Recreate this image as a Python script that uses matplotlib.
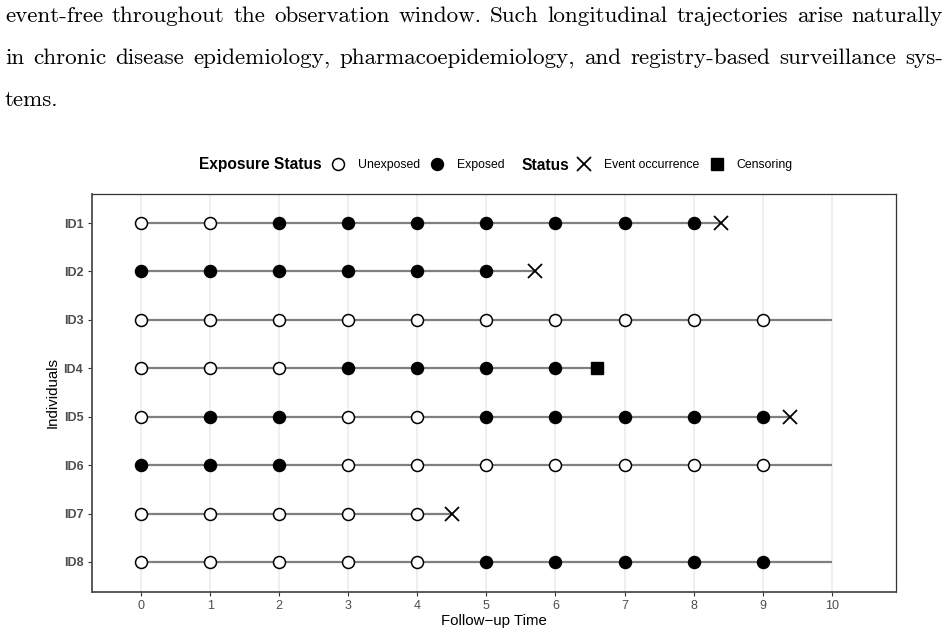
import matplotlib
matplotlib.use("Agg")
import matplotlib.pyplot as plt
from matplotlib.lines import Line2D

# ---------------- data ----------------
ids = ["ID1", "ID2", "ID3", "ID4", "ID5", "ID6", "ID7", "ID8"]
# exposure status at integer visit times 0,1,2,... (1 = exposed, 0 = unexposed)
exposure_id1 = [0, 0, 1, 1, 1, 1, 1, 1, 1]
exposure_id2 = [1, 1, 1, 1, 1, 1]
exposure_id3 = [0, 0, 0, 0, 0, 0, 0, 0, 0, 0]
exposure_id4 = [0, 0, 0, 1, 1, 1, 1]
exposure_id5 = [0, 1, 1, 0, 0, 1, 1, 1, 1, 1]
exposure_id6 = [1, 1, 1, 0, 0, 0, 0, 0, 0, 0]
exposure_id7 = [0, 0, 0, 0, 0]
exposure_id8 = [0, 0, 0, 0, 0, 1, 1, 1, 1, 1]
exposures = [exposure_id1, exposure_id2, exposure_id3, exposure_id4,
             exposure_id5, exposure_id6, exposure_id7, exposure_id8]
end_time = [8.4, 5.7, 10, 6.6, 9.4, 10, 4.5, 10]
end_type = ["event", "event", "none", "censor", "event", "none", "event", "none"]
x_ticks = [0, 1, 2, 3, 4, 5, 6, 7, 8, 9, 10]

paragraph = [
    "event-free throughout the observation window. Such longitudinal trajectories arise naturally",
    "in chronic disease epidemiology, pharmacoepidemiology, and registry-based surveillance sys-",
    "tems.",
]

W, H = 947, 636
fig = plt.figure(figsize=(W / 100, H / 100), dpi=100)
fig.patch.set_facecolor("white")

# ---------------- paragraph text (justified) ----------------
renderer = fig.canvas.get_renderer()
text_left, text_right = 5, 943
baselines = [22, 64, 106]
probe = fig.text(0, 0, paragraph[0], fontfamily="cmr10", fontsize=15.0)
natural = probe.get_window_extent(renderer).width
probe.remove()
fsize = 15.0 * (text_right - text_left) / natural * 0.995

for i, (line, yb) in enumerate(zip(paragraph, baselines)):
    words = line.split(" ")
    texts = [fig.text(0, 1 - yb / H, w, fontfamily="cmr10", fontsize=fsize,
                      va="baseline", ha="left", color="black") for w in words]
    widths = [t.get_window_extent(renderer).width for t in texts]
    if i < len(paragraph) - 1 and len(words) > 1:
        gap = (text_right - text_left - sum(widths)) / (len(words) - 1)
    else:
        gap = 0
    x = text_left
    for t, w in zip(texts, widths):
        t.set_x(x / W)
        x += w + gap

# ---------------- chart ----------------
ax = fig.add_axes([91.7 / W, (H - 592) / H, (896 - 91.7) / W, (592 - 194) / H])
ax.set_facecolor("white")

sans = ["Liberation Sans", "DejaVu Sans"]
line_color = "#7f7f7f"

for yi, (exp, et, etype) in enumerate(zip(exposures, end_time, end_type)):
    ax.plot([0, et], [yi, yi], color=line_color, lw=1.6, solid_capstyle="butt", zorder=2)
    times = list(range(len(exp)))
    for t, e in zip(times, exp):
        ax.plot(t, yi, marker="o", markersize=8.6,
                markerfacecolor="black" if e == 1 else "white",
                markeredgecolor="black", markeredgewidth=1.1, linestyle="none", zorder=3)
    if etype == "event":
        ax.plot(et, yi, marker="x", markersize=10.5, markeredgewidth=1.3,
                color="black", linestyle="none", zorder=4)
    elif etype == "censor":
        ax.plot(et, yi, marker="s", markersize=8.5, color="black", linestyle="none", zorder=4)

ax.set_xlim(-0.715, 10.93)
ax.set_ylim(len(ids) - 1 + 0.62, -0.6)
ax.set_xticks(x_ticks)
ax.set_xticklabels([str(v) for v in x_ticks], fontfamily=sans, fontsize=9, color="#4d4d4d")
ax.set_yticks(range(len(ids)))
ax.set_yticklabels(ids, fontfamily=sans, fontsize=9, fontweight="bold", color="#4d4d4d")
ax.tick_params(axis="both", length=3, width=0.8, color="#333333", pad=3)

ax.grid(axis="x", color="#ebebeb", lw=1.1, zorder=0)
ax.grid(axis="y", visible=False)
ax.set_axisbelow(True)

for side in ["top", "right"]:
    ax.spines[side].set_color("#333333")
    ax.spines[side].set_linewidth(0.9)
for side in ["left", "bottom"]:
    ax.spines[side].set_color("#4d4d4d")
    ax.spines[side].set_linewidth(1.3)

ax.set_xlabel("Follow\u2212up Time", fontfamily=sans, fontsize=10.8, color="black", labelpad=1)
ax.set_ylabel("Individuals", fontfamily=sans, fontsize=10.8, color="black", labelpad=3)

# ---------------- legend ----------------
leg_y = 1 - 165 / H
fig.text(199 / W, leg_y, "Exposure Status", fontfamily=sans, fontsize=11.2,
         fontweight="bold", va="center", ha="left")
fig.text(521 / W, leg_y, "Status", fontfamily=sans, fontsize=11.2,
         fontweight="bold", va="center", ha="left")

h_unexp = Line2D([], [], marker="o", markersize=8.6, markerfacecolor="white",
                 markeredgecolor="black", markeredgewidth=1.1, linestyle="none")
h_exp = Line2D([], [], marker="o", markersize=8.6, markerfacecolor="black",
               markeredgecolor="black", linestyle="none")
h_event = Line2D([], [], marker="x", markersize=10.5, markeredgewidth=1.3,
                 color="black", linestyle="none")
h_cens = Line2D([], [], marker="s", markersize=8.5, color="black", linestyle="none")

leg_fs = 8.8
em = leg_fs * 100 / 72
entries = [(h_unexp, "Unexposed", 338), (h_exp, "Exposed", 437),
           (h_event, "Event occurrence", 584), (h_cens, "Censoring", 717)]
for h, lab, xc in entries:
    fig.legend([h], [lab], loc="center left",
               bbox_to_anchor=((xc - 0.5 * em) / W, leg_y),
               frameon=False, handlelength=1.0, handletextpad=1.1,
               borderpad=0, borderaxespad=0,
               prop={"family": sans, "size": leg_fs})

fig.savefig("out.png", dpi=100, facecolor="white")
